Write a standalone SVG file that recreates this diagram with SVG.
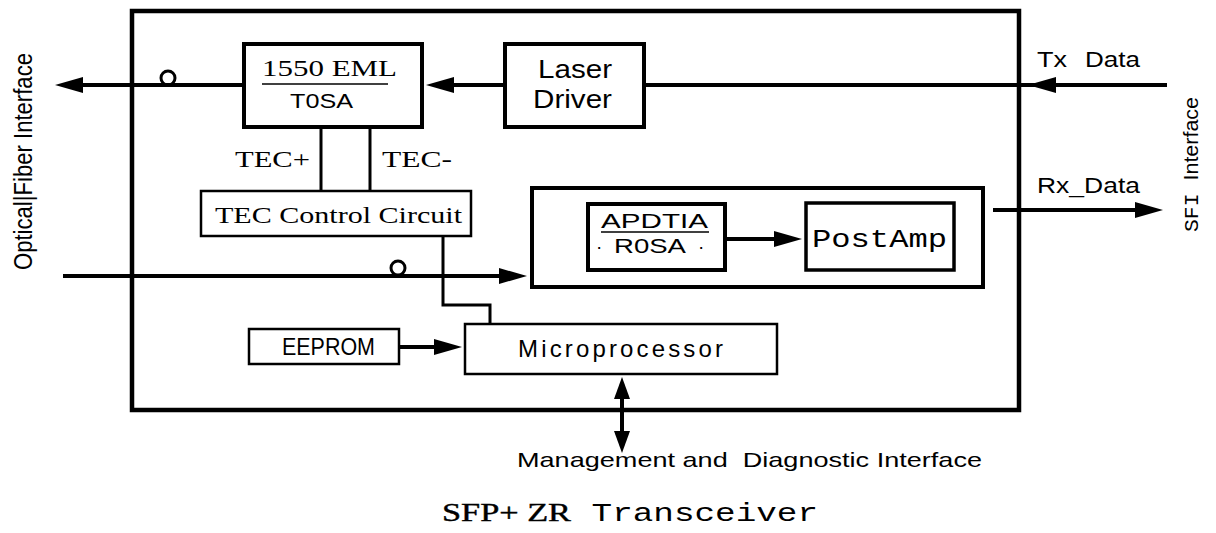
<svg xmlns="http://www.w3.org/2000/svg" width="1216" height="533" viewBox="0 0 1216 533">
<style>
  .box{fill:none;stroke:#000;stroke-width:4}
  .thin{fill:none;stroke:#000;stroke-width:2.5}
  .ln{fill:none;stroke:#000;stroke-width:4}
  .ln3{fill:none;stroke:#000;stroke-width:3}
  .sans{font-family:"Liberation Sans",Arial,sans-serif;fill:#000}
  .serif{font-family:"Liberation Serif","Times New Roman",serif;fill:#000}
  .mono{font-family:"Liberation Mono","Courier New",monospace;fill:#000}
</style>
<defs>
  <marker id="ah" viewBox="0 0 28 16" refX="18" refY="8" markerWidth="28" markerHeight="16" markerUnits="userSpaceOnUse" orient="auto">
    <path d="M0,0 L28,8 L0,16 Z" fill="#000"/>
  </marker>
  <marker id="ah2" viewBox="0 0 22 16" refX="12" refY="8" markerWidth="22" markerHeight="16" markerUnits="userSpaceOnUse" orient="auto-start-reverse">
    <path d="M0,0 L22,8 L0,16 Z" fill="#000"/>
  </marker>
</defs>
<rect width="1216" height="533" fill="#fff"/>

<g id="module">
  <rect x="132" y="11" width="887" height="399" fill="none" stroke="#000" stroke-width="4.5"/>
</g>

<g id="connectors">
  <path class="ln" d="M243,85 H65" marker-end="url(#ah)"/>
  <circle cx="168" cy="78" r="7" fill="none" stroke="#000" stroke-width="3"/>
  <path class="ln" d="M505,85 H436" marker-end="url(#ah)"/>
  <path class="ln" d="M1167,85 H1038" marker-end="url(#ah)"/>
  <path class="ln" d="M1038,85 H645"/>
  <path class="ln3" d="M321,128 V191"/>
  <path class="ln3" d="M370,128 V191"/>
  <path class="ln3" d="M443,236 V305 H490 V324"/>
  <path class="ln" d="M63,276 H517" marker-end="url(#ah)"/>
  <circle cx="398" cy="268" r="7" fill="none" stroke="#000" stroke-width="3"/>
  <path class="ln" d="M725,239 H792" marker-end="url(#ah)"/>
  <path class="ln" d="M993,210 H1153" marker-end="url(#ah)"/>
  <path class="ln" d="M399,347 H452" marker-end="url(#ah)"/>
  <path class="ln" d="M622,387 V443" marker-start="url(#ah2)" marker-end="url(#ah2)"/>
</g>

<g id="tosa">
  <rect class="box" x="244" y="44" width="178" height="83"/>
  <text class="serif" x="262" y="76" font-size="24" textLength="135" lengthAdjust="spacingAndGlyphs">1550 EML</text>
  <line x1="262" y1="84" x2="388" y2="84" stroke="#000" stroke-width="1.5"/>
  <text class="sans" x="290" y="108" font-size="21" textLength="63" lengthAdjust="spacingAndGlyphs">T0SA</text>
</g>

<g id="laser-driver">
  <rect class="box" x="505" y="44" width="139" height="83"/>
  <text class="sans" x="538" y="78" font-size="25" textLength="74" lengthAdjust="spacingAndGlyphs">Laser</text>
  <text class="sans" x="533" y="108" font-size="25" textLength="79" lengthAdjust="spacingAndGlyphs">Driver</text>
</g>

<g id="tec-labels">
  <text class="serif" x="235" y="167" font-size="23" textLength="75" lengthAdjust="spacingAndGlyphs">TEC+</text>
  <text class="serif" x="382" y="167" font-size="23" textLength="70" lengthAdjust="spacingAndGlyphs">TEC-</text>
</g>

<g id="tec-control">
  <rect class="thin" x="201" y="191" width="270" height="45"/>
  <text class="serif" x="215" y="223" font-size="24" textLength="247" lengthAdjust="spacingAndGlyphs">TEC Control Circuit</text>
</g>

<g id="receiver">
  <rect class="box" x="532" y="188" width="451" height="99"/>
</g>

<g id="rosa">
  <rect class="box" x="588" y="204" width="137" height="66"/>
  <text class="sans" x="601" y="228" font-size="21" textLength="107" lengthAdjust="spacingAndGlyphs">APDTIA</text>
  <line x1="601" y1="232" x2="709" y2="232" stroke="#000" stroke-width="1.5"/>
  <text class="sans" x="596" y="253" font-size="19">·</text>
  <text class="sans" x="614" y="253" font-size="20" textLength="72" lengthAdjust="spacingAndGlyphs">R0SA</text>
  <text class="sans" x="698" y="253" font-size="19">·</text>
</g>

<g id="postamp">
  <rect fill="none" stroke="#000" stroke-width="3.5" x="806" y="203" width="148" height="67"/>
  <text class="mono" x="812" y="247" font-size="25" textLength="135" lengthAdjust="spacingAndGlyphs">PostAmp</text>
</g>

<g id="microprocessor">
  <rect class="thin" x="465" y="324" width="312" height="50"/>
  <text class="sans" x="518" y="357" font-size="24" textLength="205">Microprocessor</text>
</g>

<g id="eeprom">
  <rect class="thin" x="249" y="329" width="150" height="35"/>
  <text class="sans" x="282" y="355" font-size="23" textLength="93" lengthAdjust="spacingAndGlyphs">EEPROM</text>
</g>

<g id="labels">
  <text class="sans" x="1037" y="67" font-size="22" textLength="30" lengthAdjust="spacingAndGlyphs">Tx</text>
  <text class="sans" x="1085" y="67" font-size="22" textLength="55" lengthAdjust="spacingAndGlyphs">Data</text>
  <text class="sans" x="1037" y="193" font-size="22" textLength="103" lengthAdjust="spacingAndGlyphs">Rx_Data</text>
  <text transform="translate(1198,232) rotate(-90)" font-size="21" textLength="135" lengthAdjust="spacingAndGlyphs"><tspan class="mono">SFI </tspan><tspan class="sans">Interface</tspan></text>
  <text class="sans" transform="translate(32,270) rotate(-90)" font-size="26" textLength="217" lengthAdjust="spacingAndGlyphs">Optical|Fiber Interface</text>
  <text class="sans" x="517" y="467" font-size="21" textLength="465" lengthAdjust="spacingAndGlyphs" xml:space="preserve">Management and  Diagnostic Interface</text>
  <text x="442" y="521" font-size="25" textLength="376" lengthAdjust="spacingAndGlyphs"><tspan class="serif" stroke="#000" stroke-width="0.4">SFP+ ZR</tspan><tspan class="mono"> Transceiver</tspan></text>
</g>
</svg>
